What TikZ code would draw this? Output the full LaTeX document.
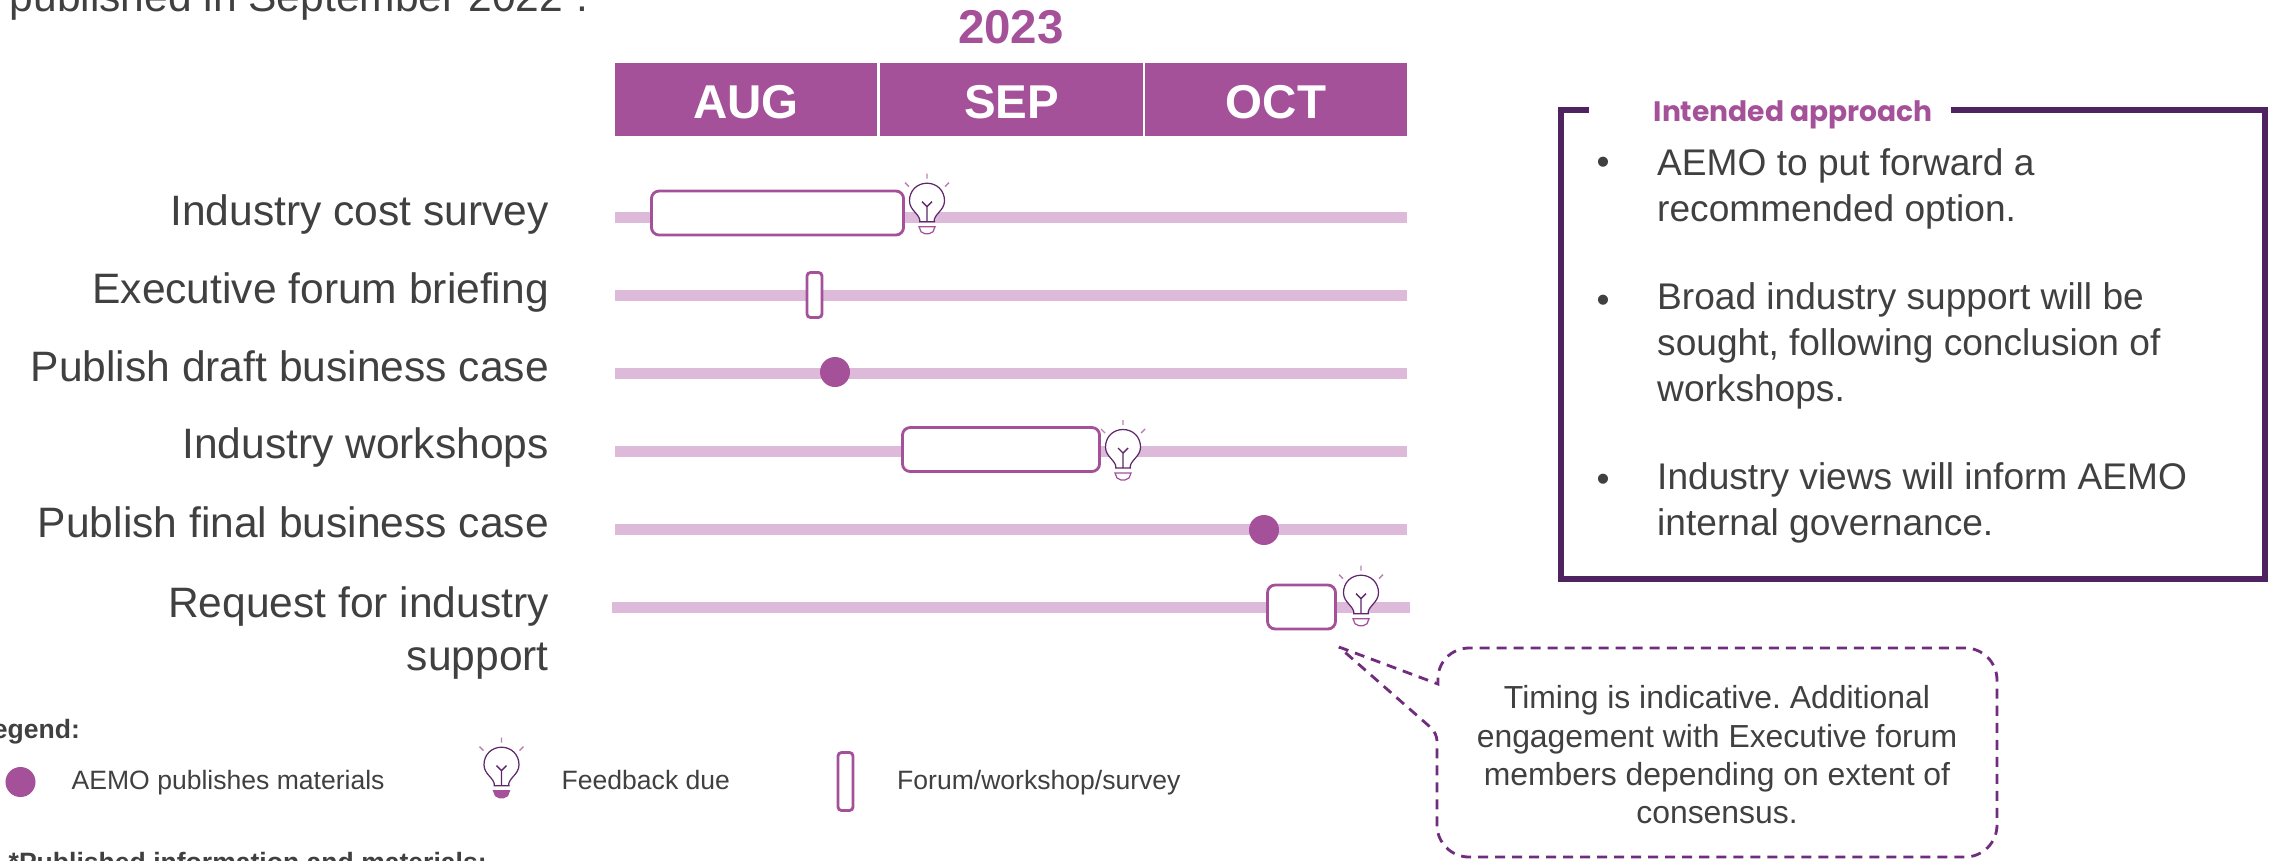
\documentclass[tikz,border=0pt]{standalone}
\usepackage{fontspec}
\setmainfont{Liberation Sans}
\newfontfamily\titlefont{Poppins}
\frenchspacing
\definecolor{plum}{HTML}{A4519A}
\definecolor{plumbar}{HTML}{DDB9DA}
\definecolor{plumdark}{HTML}{4F2360}
\definecolor{plumdash}{HTML}{702D7E}
\definecolor{plumray}{HTML}{BC7FB5}
\definecolor{bodygrey}{HTML}{404040}
\tikzset{
  month/.style={fill=plum,text=white,font=\fontsize{13.5}{16}\selectfont\bfseries,inner sep=0pt,minimum height=0.73cm,text height=0.39cm},
  rowlabel/.style={anchor=base east,inner sep=0pt,text=bodygrey,font=\fontsize{12.1}{14.8}\selectfont},
  task/.style={draw=plum,fill=white,line width=0.8pt,rounded corners=2.2pt,inner sep=0pt},
  slim/.style={task,rounded corners=1pt},
  publish/.style={circle,fill=plum,inner sep=0pt,minimum size=0.3cm},
  legendtext/.style={anchor=base west,inner sep=0pt,text=bodygrey,font=\fontsize{7.55}{9}\selectfont},
  point/.style={anchor=west,inner sep=0pt,align=left,text=bodygrey,font=\fontsize{10.55}{13.05}\selectfont},
  bullet/.style={inner sep=0pt,text=bodygrey,font=\fontsize{10.55}{13}\selectfont},
  bulb/.pic={
    \draw[plumdash!85!black,line width=0.35pt,fill=white] (-7,21) .. controls (-7,13) and (-17.5,10) .. (-17.5,0)
      .. controls (-17.5,-10) and (-10,-17.5) .. (0,-17.5) .. controls (10,-17.5) and (17.5,-10) .. (17.5,0)
      .. controls (17.5,10) and (7,13) .. (7,21);
    \draw[plumdash!85!black,line width=0.4pt] (-8,21) -- (8,21) (0,21) -- (0,6) (-5,1) -- (0,6) -- (5,1);
    \draw[plum,line width=0.35pt,fill=#1] (-8,26) -- (8,26) -- (6,31) -- (2,33) -- (-2,33) -- (-6,31) -- cycle;
    \draw[plumray,line width=0.4pt] (0,-27) -- (0,-22) (-22,-18) -- (-18,-14) (22,-18) -- (18,-14);
  }
}
\begin{document}
\begin{tikzpicture}[x=0.01cm,y=-0.01cm]
\useasboundingbox (0,0) rectangle (2275,860);
\clip (0,0) rectangle (2275,860);

\node[rowlabel,anchor=base west] (intro) at (9,11) {published in September 2022\textsuperscript{*}.};

% header
\node[inner sep=0pt,text=plum,font=\fontsize{13.5}{16}\selectfont\bfseries] (year) at (1011,27) {2023};
\node[month,minimum width=2.62cm] (aug) at (746,99.5) {AUG};
\node[month,minimum width=2.63cm] (sep) at (1011.5,99.5) {SEP};
\node[month,minimum width=2.62cm] (oct) at (1276,99.5) {OCT};

% rows
\fill[plumbar] (615,212) rectangle (1407,223);
\fill[plumbar] (615,289.5) rectangle (1407,300.5);
\fill[plumbar] (615,367.5) rectangle (1407,378.5);
\fill[plumbar] (615,445.5) rectangle (1407,456.5);
\fill[plumbar] (615,524) rectangle (1407,535);
\fill[plumbar] (612,601.5) rectangle (1410,612.5);

\node[rowlabel] (survey) at (549.5,225) {Industry cost survey};
\node[rowlabel] (briefing) at (549.5,303) {Executive forum briefing};
\node[rowlabel] (draft) at (549.5,381) {Publish draft business case};
\node[rowlabel] (workshops) at (549.5,458.5) {Industry workshops};
\node[rowlabel] (final) at (549.5,537) {Publish final business case};
\node[rowlabel,anchor=east,align=right] (request) at (549.5,633) {Request for industry\\support};

\node[task,minimum width=2.52cm,minimum height=0.44cm] (surveybox) at (777.5,213) {};
\node[slim,minimum width=0.15cm,minimum height=0.45cm] (briefingbox) at (814.5,295) {};
\node[task,minimum width=1.97cm,minimum height=0.44cm] (workshopbox) at (1001,449.5) {};
\node[task,minimum width=0.68cm,minimum height=0.44cm] (requestbox) at (1301.5,607) {};

\node[publish] (draftdot) at (835,372) {};
\node[publish] (finaldot) at (1264,530) {};

\pic (surveybulb) at (927,200.7) {bulb=white};
\pic (workshopbulb) at (1123,447) {bulb=white};
\pic (requestbulb) at (1361,592.7) {bulb=white};

% legend
\node[legendtext,font=\fontsize{7.55}{9}\selectfont\bfseries] (legend) at (-24,738) {Legend:};
\node[publish] (legenddot) at (20.5,782) {};
\node[legendtext] (legendone) at (71,789) {AEMO publishes materials};
\pic (legendbulb) at (501.5,764.7) {bulb=plum};
\node[legendtext] (legendtwo) at (561,789) {Feedback due};
\node[slim,minimum width=0.15cm,minimum height=0.58cm] (legendbox) at (845.5,781.5) {};
\node[legendtext] (legendthree) at (896.5,789) {Forum/workshop/survey};
\node[legendtext,font=\fontsize{7.55}{9}\selectfont\bfseries] (published) at (8,871) {*Published information and materials:};

% approach box
\coordinate (boxgapa) at (1589,110);
\coordinate (boxgapb) at (1951,110);
\draw[plumdark,line width=1.6pt] (boxgapa) -- (1561,110) -- (1561,579) -- (2265,579) -- (2265,110) -- (boxgapb);
\node[anchor=base west,inner sep=0pt,text=plum,font=\fontsize{8}{10}\titlefont\bfseries] (approach) at (1653,121.7) {Intended approach};

\node[bullet] (bulleta) at (1603,166) {•};
\node[bullet] (bulletb) at (1603,304) {•};
\node[bullet] (bulletc) at (1603,483) {•};
\node[point] (pointa) at (1656.5,188.5) {AEMO to put forward a\\recommended option.};
\node[point] (pointb) at (1656.5,346) {Broad industry support will be\\sought, following conclusion of\\workshops.};
\node[point] (pointc) at (1656.5,503) {Industry views will inform AEMO\\internal governance.};

% callout
\coordinate (tip) at (1339,647);
\coordinate (taila) at (1438,684);
\coordinate (tailb) at (1437,733);
\draw[plumdash,line width=0.8pt,dash pattern=on 0.1cm off 0.07cm] (tip) -- (taila)
  [rounded corners=0.32cm] -- (1437,648) -- (1997,648) -- (1997,857) -- (1437,857)
  [rounded corners=0.08cm] -- (tailb) [sharp corners] -- (tip);
\node[inner sep=0pt,align=center,text=bodygrey,font=\fontsize{9.07}{10.9}\selectfont] (note) at (1717,755) {Timing is indicative. Additional\\engagement with Executive forum\\members depending on extent of\\consensus.};
\end{tikzpicture}
\end{document}
